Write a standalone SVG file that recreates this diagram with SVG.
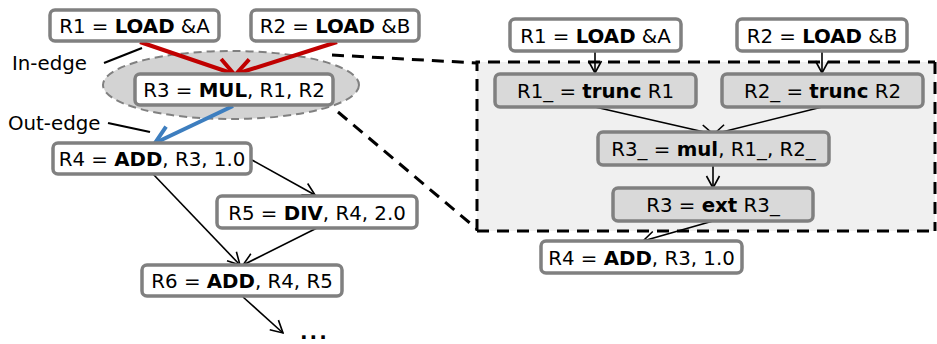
<svg xmlns="http://www.w3.org/2000/svg" width="937" height="344" viewBox="0 0 937 344">
<style>
text{font-family:"DejaVu Sans","Liberation Sans",sans-serif;font-size:19.8px;fill:#000}
.b{font-weight:bold}
.node{stroke:#808080;stroke-width:3.5}
.w{fill:#fff}
.g{fill:#d9d9d9}
.edge{stroke:#000;stroke-width:1.6;fill:none}
.dash{stroke:#000;stroke-width:3;stroke-dasharray:12 8;fill:none}
</style>
<defs>
<marker id="ab" markerUnits="userSpaceOnUse" markerWidth="16" markerHeight="16" viewBox="0 0 16 16" refX="15" refY="8" orient="auto">
<path d="M3,1.5 L15,8 L3,14.5" fill="none" stroke="#000" stroke-width="1.6"/>
</marker>
<marker id="ar" markerUnits="userSpaceOnUse" markerWidth="26" markerHeight="26" viewBox="0 0 26 26" refX="23" refY="13" orient="auto">
<path d="M6,3 L23,13 L6,23" fill="none" stroke="#c00000" stroke-width="4"/>
</marker>
<marker id="au" markerUnits="userSpaceOnUse" markerWidth="26" markerHeight="26" viewBox="0 0 26 26" refX="23" refY="13" orient="auto">
<path d="M6,3 L23,13 L6,23" fill="none" stroke="#3d7ebf" stroke-width="4"/>
</marker>
</defs>

<g id="region">
<ellipse cx="231" cy="85" rx="128" ry="34" fill="#d3d3d3" stroke="#808080" stroke-width="2" stroke-dasharray="8 5"/>
<rect x="477" y="62" width="458" height="169" fill="#f0f0f0" stroke="none"/>
<path class="dash" d="M477,231 L477,62 L935,62 M477,231 L935,231 M935,62 L935,231"/>
<line class="dash" x1="332" y1="55" x2="477" y2="63"/>
<line class="dash" x1="338" y1="112" x2="477" y2="229"/>
</g>

<g id="labels">
<text x="12" y="70">In-edge</text>
<text x="8" y="130">Out-edge</text>
<text x="300" y="339" class="b" style="font-size:20px;letter-spacing:2px">...</text>
</g>

<g id="connectors">
<line x1="104" y1="63" x2="142" y2="48" stroke="#000" stroke-width="2.2"/>
<line x1="108" y1="123" x2="150" y2="132" stroke="#000" stroke-width="2.2"/>
<line x1="140" y1="42" x2="234" y2="74" stroke="#c00000" stroke-width="4" marker-end="url(#ar)"/>
<line x1="337" y1="42" x2="236" y2="74" stroke="#c00000" stroke-width="4" marker-end="url(#ar)"/>
<line x1="233" y1="106" x2="155" y2="143" stroke="#3d7ebf" stroke-width="4" marker-end="url(#au)"/>
<line class="edge" x1="252" y1="160" x2="315" y2="195" marker-end="url(#ab)"/>
<line class="edge" x1="153" y1="174" x2="240" y2="265" marker-end="url(#ab)"/>
<line class="edge" x1="317" y1="228" x2="243" y2="265" marker-end="url(#ab)"/>
<line class="edge" x1="243" y1="297" x2="283" y2="333" marker-end="url(#ab)"/>
<line class="edge" x1="595" y1="51" x2="595" y2="73" marker-end="url(#ab)"/>
<line class="edge" x1="822" y1="51" x2="822" y2="73" marker-end="url(#ab)"/>
<line class="edge" x1="595" y1="107" x2="713" y2="134" marker-end="url(#ab)"/>
<line class="edge" x1="822" y1="107" x2="714" y2="134" marker-end="url(#ab)"/>
<line class="edge" x1="713" y1="165" x2="713" y2="188" marker-end="url(#ab)"/>
<line class="edge" x1="713" y1="221" x2="643" y2="241" marker-end="url(#ab)"/>
</g>

<g id="L_R1"><rect class="node w" x="50" y="10" width="169" height="31" rx="5"/><text x="134.5" y="33" text-anchor="middle">R1 = <tspan class="b">LOAD</tspan> &amp;A</text></g>
<g id="L_R2"><rect class="node w" x="251" y="10" width="168" height="31" rx="5"/><text x="335" y="33" text-anchor="middle">R2 = <tspan class="b">LOAD</tspan> &amp;B</text></g>
<g id="L_R3"><rect class="node w" x="135" y="74" width="198" height="31" rx="5"/><text x="234" y="97" text-anchor="middle">R3 = <tspan class="b">MUL</tspan>, R1, R2</text></g>
<g id="L_R4"><rect class="node w" x="53" y="143" width="198" height="31" rx="5"/><text x="152" y="166" text-anchor="middle">R4 = <tspan class="b">ADD</tspan>, R3, 1.0</text></g>
<g id="L_R5"><rect class="node w" x="217" y="196" width="200" height="32" rx="5"/><text x="317" y="220" text-anchor="middle">R5 = <tspan class="b">DIV</tspan>, R4, 2.0</text></g>
<g id="L_R6"><rect class="node w" x="142" y="265" width="200" height="31" rx="5"/><text x="242" y="288" text-anchor="middle">R6 = <tspan class="b">ADD</tspan>, R4, R5</text></g>

<g id="R_R1"><rect class="node w" x="510" y="19" width="171" height="32" rx="5"/><text x="595.5" y="43" text-anchor="middle">R1 = <tspan class="b">LOAD</tspan> &amp;A</text></g>
<g id="R_R2"><rect class="node w" x="737" y="19" width="170" height="32" rx="5"/><text x="822" y="43" text-anchor="middle">R2 = <tspan class="b">LOAD</tspan> &amp;B</text></g>
<g id="R_T1"><rect class="node g" x="495" y="74" width="201" height="33" rx="5"/><text x="595.5" y="98" text-anchor="middle">R1_ = <tspan class="b">trunc</tspan> R1</text></g>
<g id="R_T2"><rect class="node g" x="722" y="74" width="201" height="33" rx="5"/><text x="822.5" y="98" text-anchor="middle">R2_ = <tspan class="b">trunc</tspan> R2</text></g>
<g id="R_MUL"><rect class="node g" x="598" y="132" width="231" height="33" rx="5"/><text x="713.5" y="156" text-anchor="middle">R3_ = <tspan class="b">mul</tspan>, R1_, R2_</text></g>
<g id="R_EXT"><rect class="node g" x="613" y="188" width="200" height="33" rx="5"/><text x="713" y="212" text-anchor="middle">R3 = <tspan class="b">ext</tspan> R3_</text></g>
<g id="R_R4"><rect class="node w" x="541" y="241" width="201" height="32" rx="5"/><text x="641.5" y="265" text-anchor="middle">R4 = <tspan class="b">ADD</tspan>, R3, 1.0</text></g>
</svg>
